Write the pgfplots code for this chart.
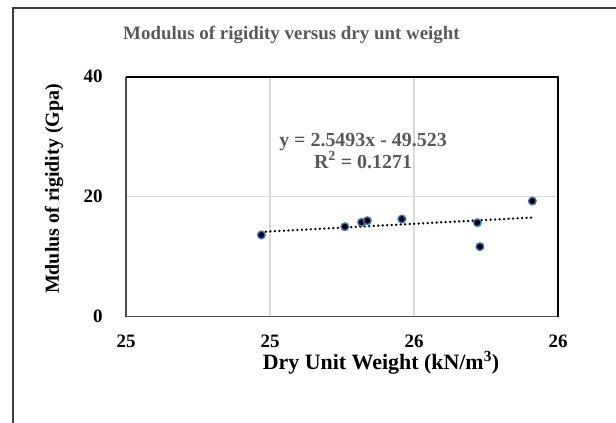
\documentclass[border=0pt]{standalone}
\usepackage{fontspec}
\setmainfont{Liberation Serif}
\usepackage{pgfplots}
\pgfplotsset{compat=1.18}
\definecolor{txtgray}{RGB}{89,89,89}
\definecolor{gridgray}{RGB}{217,217,217}
\definecolor{mkblue}{RGB}{68,114,196}
\begin{document}
\begin{tikzpicture}
\path[use as bounding box] (0bp,0bp) rectangle (616bp,423bp);
% chart frame (cut at right and bottom)
\draw[black!75, line width=1.3bp] (13bp,0bp) -- (13bp,415bp) -- (616bp,415bp);
\node[font=\bfseries\fontsize{19}{22}\selectfont, text=txtgray] at (291.5bp,388bp) {Modulus of rigidity versus dry unt weight};
\begin{axis}[
    at={(126bp,106.3bp)}, anchor=south west,
    scale only axis, width=432bp, height=240bp,
    xmin=24.5, xmax=26, ymin=0, ymax=40,
    xtick={24.5,25,25.5,26}, xticklabels={25,25,26,26},
    ytick={0,20,40},
    major tick length=0pt,
    grid=major, grid style={gridgray, line width=1.2bp},
    axis line style={draw=none},
    tick label style={font=\bfseries\fontsize{19}{22}\selectfont, black},
    /pgf/number format/assume math mode=true,
    yticklabel style={xshift=-20bp},
    xticklabel style={yshift=-15bp},
    clip=false,
  ]
  % linear trendline (Excel fit y = 2.5493x - 49.523, drawn between data extremes)
  \addplot[black, line width=2.5bp, line cap=round, dash pattern=on 0.1bp off 4.4bp] coordinates {
    (24.970,14.133) (25.911,16.532)
  };
  \addplot[only marks, mark=*, mark size=3.8bp,
    mark options={fill=black, draw=mkblue, line width=1.4bp}] coordinates {
    (24.970,13.62)
    (25.260,15.00)
    (25.318,15.73)
    (25.338,16.00)
    (25.458,16.28)
    (25.720,15.67)
    (25.729,11.67)
    (25.911,19.28)
  };
  \draw[black!70, line width=1.2bp] (rel axis cs:0,1) -- (rel axis cs:0,0) -- (rel axis cs:1,0);
  \draw[black, line width=2.2bp] (rel axis cs:0,1) -- (rel axis cs:1,1) -- (rel axis cs:1,0);
\end{axis}
% axis titles
\node[font=\bfseries\fontsize{22}{25}\selectfont] at (381bp,60bp) {Dry Unit Weight (kN/m\textsuperscript{3})};
\node[font=\bfseries\fontsize{20}{23}\selectfont, rotate=90] at (54bp,234bp) {Mdulus of rigidity (Gpa)};
% trendline label
\node[font=\bfseries\fontsize{20}{23}\selectfont, text=txtgray, align=center] at (363bp,272bp) {y = 2.5493x - 49.523\\[-1bp]R\textsuperscript{2} = 0.1271};
\end{tikzpicture}
\end{document}
